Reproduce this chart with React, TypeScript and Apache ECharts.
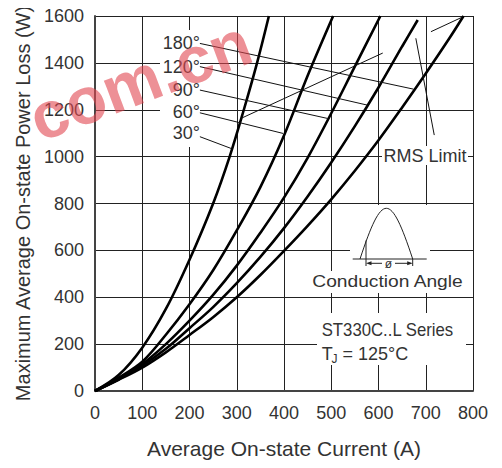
import React, { useEffect, useRef } from "react";
import * as echarts from "echarts";

// Average on-state current (A) vs. max average power loss (W), by conduction angle
const angleLabels = ["180°", "120°", "90°", "60°", "30°"];

const curve30: number[][] = [[0, 0], [50, 68], [100, 185], [150, 350], [200, 560], [250, 800], [285, 1000], [315, 1200], [343, 1400], [368, 1600]];
const curve60: number[][] = [[0, 0], [50, 57], [100, 125], [150, 240], [200, 370], [250, 515], [300, 685], [350, 870], [400, 1090], [450, 1345], [504, 1600]];
const curve90: number[][] = [[0, 0], [50, 52], [100, 115], [150, 200], [200, 300], [250, 410], [300, 535], [350, 675], [400, 825], [450, 995], [500, 1185], [550, 1385], [604, 1600]];
const curve120: number[][] = [[0, 0], [50, 50], [100, 108], [150, 180], [200, 268], [250, 358], [300, 460], [350, 572], [400, 695], [450, 830], [500, 975], [550, 1130], [600, 1295], [650, 1470], [683, 1583]];
const curve180: number[][] = [[0, 0], [50, 48], [100, 100], [150, 165], [200, 239], [250, 315], [300, 400], [350, 495], [400, 598], [450, 705], [500, 818], [550, 940], [600, 1070], [650, 1210], [700, 1355], [750, 1505], [780, 1600]];

// leader lines (data coordinates) from angle labels to curves
const leader180: number[][] = [[222, 1483], [674, 1288]];
const leader120: number[][] = [[222, 1384], [576, 1220]];
const leader90: number[][] = [[222, 1284], [492, 1163]];
const leader60: number[][] = [[222, 1187], [398, 1099]];
const leader30: number[][] = [[222, 1085], [288, 1035]];
// RMS limit leaders
const rmsLeaderA: number[][] = [[310, 1164], [609, 1442]];
const rmsLeaderB: number[][] = [[679, 1505], [718, 1092]];
const rmsLeaderC: number[][] = [[711, 1533], [776, 1594]];

const FONT = "'Liberation Sans', Arial, Helvetica, sans-serif";
const TXT = "#333";

export default function App() {
  const ref = useRef<HTMLDivElement>(null);

  useEffect(() => {
    if (!ref.current) return;
    const chart = echarts.init(ref.current, undefined, { renderer: "svg" });

    const curve = (name: string, data: number[][]) => ({
      name,
      type: "line",
      data,
      smooth: 0.35,
      showSymbol: false,
      symbol: "none",
      lineStyle: { color: "#000", width: 2.6 },
      z: 3,
      silent: true,
    });
    const thin = (data: number[][]) => ({
      type: "line",
      data,
      showSymbol: false,
      symbol: "none",
      lineStyle: { color: "#111", width: 1 },
      z: 3,
      silent: true,
    });

    const labelY = [43.3, 66.7, 90, 111.7, 133.3];
    const angleTexts = angleLabels.map((t, i) => ({
      type: "text",
      x: 200,
      y: labelY[i],
      z: 4,
      style: { text: t, fontSize: 18, fontFamily: FONT, fill: TXT, align: "right", verticalAlign: "middle" },
    }));

    const plain = (v: number) => String(v);

    const option: any = {
      animation: false,
      backgroundColor: "#fff",
      grid: { left: 95, right: 29, top: 16, bottom: 77 },
      xAxis: {
        type: "value",
        min: 0,
        max: 800,
        interval: 100,
        name: "Average On-state Current (A)",
        nameLocation: "middle",
        nameGap: 47,
        nameTextStyle: { fontSize: 21, color: TXT, fontFamily: FONT },
        axisLine: { lineStyle: { color: "#444", width: 2 } },
        axisTick: { show: false },
        axisLabel: { fontSize: 18, color: TXT, margin: 13, fontFamily: FONT, formatter: plain },
        splitLine: { lineStyle: { color: "#222", width: 1 } },
      },
      yAxis: {
        type: "value",
        min: 0,
        max: 1600,
        interval: 200,
        name: "Maximum Average On-state Power Loss (W)",
        nameLocation: "middle",
        nameGap: 55,
        nameTextStyle: { fontSize: 20, color: TXT, fontFamily: FONT },
        axisLine: { lineStyle: { color: "#444", width: 2 } },
        axisTick: { show: false },
        axisLabel: { fontSize: 18, color: TXT, margin: 11, fontFamily: FONT, formatter: plain },
        splitLine: { lineStyle: { color: "#222", width: 1 } },
      },
      series: [
        curve("30°", curve30),
        curve("60°", curve60),
        curve("90°", curve90),
        curve("120°", curve120),
        curve("180°", curve180),
        thin(leader180),
        thin(leader120),
        thin(leader90),
        thin(leader60),
        thin(leader30),
        thin(rmsLeaderA),
        thin(rmsLeaderB),
        thin(rmsLeaderC),
      ],
      graphic: [
        // white boxes behind annotations
        { type: "rect", z: 1, shape: { x: 160, y: 30, width: 40, height: 117 }, style: { fill: "#fff" } },
        { type: "rect", z: 1, shape: { x: 382, y: 146, width: 86, height: 19 }, style: { fill: "#fff" } },
        { type: "rect", z: 1, shape: { x: 350, y: 205, width: 80, height: 66 }, style: { fill: "#fff" } },
        { type: "rect", z: 1, shape: { x: 308, y: 271, width: 160, height: 22 }, style: { fill: "#fff" } },
        { type: "rect", z: 1, shape: { x: 317, y: 313, width: 149, height: 52 }, style: { fill: "#fff" } },
        ...angleTexts,
        {
          type: "text", x: 425, y: 155.5, z: 4,
          style: { text: "RMS Limit", fontSize: 18, fontFamily: FONT, fill: TXT, align: "center", verticalAlign: "middle" },
        },
        // conduction angle icon
        { type: "line", z: 4, shape: { x1: 352.7, y1: 259, x2: 426.7, y2: 259 }, style: { stroke: "#222", lineWidth: 1 } },
        {
          type: "bezierCurve", z: 4,
          shape: { x1: 360, y1: 259, cpx1: 382.3, cpy1: 191.4, cpx2: 390.4, cpy2: 191.4, x2: 412.7, y2: 259 },
          style: { stroke: "#222", lineWidth: 1, fill: null },
        },
        { type: "line", z: 4, shape: { x1: 366, y1: 240.5, x2: 366, y2: 266 }, style: { stroke: "#222", lineWidth: 1 } },
        { type: "line", z: 4, shape: { x1: 412.7, y1: 259, x2: 412.7, y2: 266 }, style: { stroke: "#222", lineWidth: 1 } },
        { type: "line", z: 4, shape: { x1: 370, y1: 263.3, x2: 382, y2: 263.3 }, style: { stroke: "#222", lineWidth: 1 } },
        { type: "line", z: 4, shape: { x1: 395, y1: 263.3, x2: 408.7, y2: 263.3 }, style: { stroke: "#222", lineWidth: 1 } },
        { type: "polygon", z: 4, shape: { points: [[366, 263.3], [371.5, 261.3], [371.5, 265.3]] }, style: { fill: "#222" } },
        { type: "polygon", z: 4, shape: { points: [[412.7, 263.3], [407.2, 261.3], [407.2, 265.3]] }, style: { fill: "#222" } },
        {
          type: "text", x: 388.5, y: 263.5, z: 4,
          style: { text: "ø", fontSize: 12, fontFamily: FONT, fill: TXT, align: "center", verticalAlign: "middle" },
        },
        {
          type: "text", x: 387.5, y: 282, z: 4, scaleX: 1.2,
          style: { text: "Conduction Angle", fontSize: 16, fontFamily: FONT, fill: TXT, align: "center", verticalAlign: "middle" },
        },
        {
          type: "text", x: 321.7, y: 330, z: 4, scaleX: 0.93,
          style: { text: "ST330C..L Series", fontSize: 18, fontFamily: FONT, fill: TXT, align: "left", verticalAlign: "middle" },
        },
        {
          type: "text", x: 321.7, y: 353.5, z: 4,
          style: { text: "T", fontSize: 18, fontFamily: FONT, fill: TXT, align: "left", verticalAlign: "middle" },
        },
        {
          type: "text", x: 331.5, y: 358.5, z: 4,
          style: { text: "J", fontSize: 12, fontFamily: FONT, fill: TXT, align: "left", verticalAlign: "middle" },
        },
        {
          type: "text", x: 342.5, y: 353.5, z: 4,
          style: { text: "= 125°C", fontSize: 18, fontFamily: FONT, fill: TXT, align: "left", verticalAlign: "middle" },
        },
        // watermark
        {
          type: "text", x: 140, y: 80, z: 10, rotation: 0.36,
          style: {
            text: "com.cn", fontSize: 66, fontWeight: "bold", fontFamily: FONT,
            fill: "rgba(225,70,80,0.6)", align: "center", verticalAlign: "middle",
          },
        },
      ],
    };

    chart.setOption(option);
    return () => chart.dispose();
  }, []);

  return <div ref={ref} style={{ width: 502, height: 468, margin: -8 }} />;
}
